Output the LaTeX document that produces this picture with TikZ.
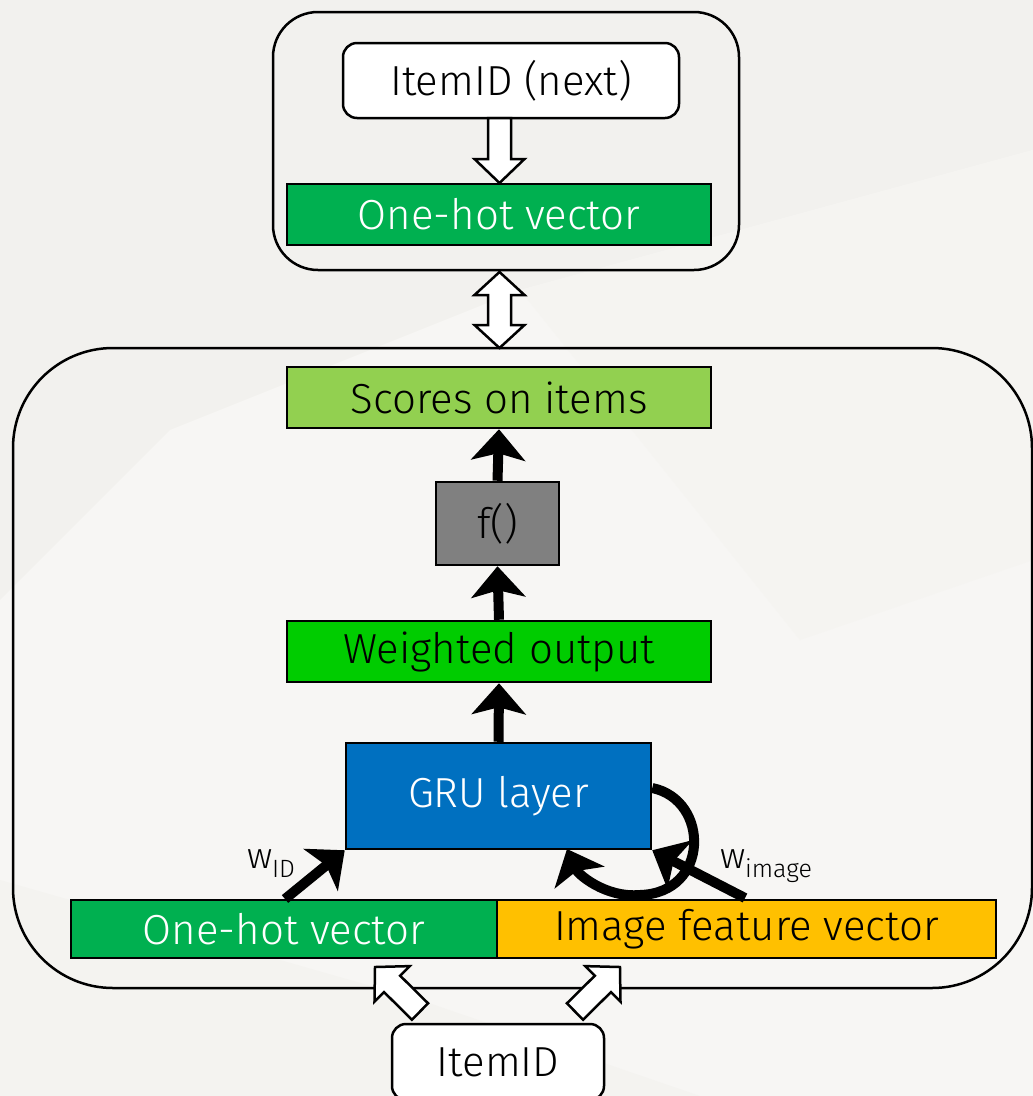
\documentclass[tikz,border=0pt]{standalone}
\usepackage{fontspec}
\setmainfont{Fira Sans Light}
\usetikzlibrary{arrows.meta,calc}
\definecolor{bgbase}{HTML}{F2F1EE}
\definecolor{bglight}{HTML}{F7F6F4}
\definecolor{ohgreen}{HTML}{00B050}
\definecolor{scgreen}{HTML}{92D050}
\definecolor{wtgreen}{HTML}{00CC00}
\definecolor{fgrey}{HTML}{808080}
\definecolor{grublue}{HTML}{0070C0}
\definecolor{imgyel}{HTML}{FFC000}
\tikzset{
  bigtext/.style={font=\fontsize{42}{50}\selectfont},
  box/.style={draw=black, line width=2.5pt, rectangle, inner sep=0pt, bigtext},
  container/.style={draw=black, line width=2.5pt, rectangle, inner sep=0pt},
  blk/.style={line width=10pt, -{Stealth[length=31pt,width=54pt,inset=7pt]}},
  hollow/.style={draw=black, fill=white, line width=2.5pt, line join=miter},
}
\newcommand\blockarrow[2]{%
  \draw[hollow] let \p1=(#1), \p2=(#2), \n1={atan2(\y2-\y1,\x2-\x1)}, \n2={veclen(\x2-\x1,\y2-\y1)} in
  [shift={(\p1)}, rotate=\n1] (0,-11.5) -- (\n2-24,-11.5) -- (\n2-24,-25) -- (\n2,0) -- (\n2-24,25) -- (\n2-24,11.5) -- (0,11.5) -- cycle;}
\newcommand\dblblockarrow[2]{%
  \draw[hollow] let \p1=(#1), \p2=(#2), \n1={atan2(\y2-\y1,\x2-\x1)}, \n2={veclen(\x2-\x1,\y2-\y1)} in
  [shift={(\p1)}, rotate=\n1] (0,0) -- (23,-25) -- (23,-11.5) -- (\n2-23,-11.5) -- (\n2-23,-25) -- (\n2,0) -- (\n2-23,25) -- (\n2-23,11.5) -- (23,11.5) -- (23,25) -- cycle;}
\begin{document}
\begin{tikzpicture}[x=1pt,y=1pt]
\useasboundingbox (0,0) rectangle (1033,-1096);
% background
\fill[bgbase] (0,0) rectangle (1033,-1096);
\fill[bglight] (0,-600) -- (170,-430) -- (520,-290) -- (1033,-150) -- (1033,-1096) -- (0,-1096) -- cycle;
\fill[bgbase!60!bglight] (0,-1096) -- (0,-880) -- (420,-1000) -- (700,-1096) -- cycle;
\fill[bgbase!50!bglight] (520,-290) -- (800,-640) -- (1033,-560) -- (1033,-150) -- cycle;

% top container
\node[container, rounded corners=45pt, minimum width=466pt, minimum height=258pt] (topbox) at (506,-141) {};
\node[box, fill=white, rounded corners=14pt, minimum width=336pt, minimum height=75pt] (next) at (511,-80.5) {ItemID (next)};
\node[box, fill=ohgreen, text=white, minimum width=424pt, minimum height=61pt] (ohtop) at (499,-214.5) {One-hot vector};

% bottom container
\node[container, rounded corners=100pt, minimum width=1019pt, minimum height=640pt] (botbox) at (522.5,-668) {};
\node[box, fill=scgreen, minimum width=424pt, minimum height=61pt] (scores) at (499,-397.5) {Scores on items};
\node[box, fill=fgrey, minimum width=123pt, minimum height=83pt] (f) at (497.5,-523.5) {f()};
\node[box, fill=wtgreen, minimum width=424pt, minimum height=61pt] (weighted) at (499,-651.5) {Weighted output};
\node[box, fill=grublue, text=white, minimum width=305pt, minimum height=106pt] (gru) at (498.5,-796) {GRU layer};
\node[box, fill=ohgreen, text=white, minimum width=426pt, minimum height=58pt] (ohbot) at (284,-929) {One-hot vector};
\node[box, fill=imgyel, minimum width=499pt, minimum height=58pt] (img) at (746.5,-929) {Image feature vector};
\node[box, fill=white, rounded corners=14pt, minimum width=212pt, minimum height=76pt] (item) at (498,-1062) {ItemID};

% hollow block arrows
\coordinate (a1s) at (499.5,-118);
\coordinate (a1e) at (499.5,-183);
\blockarrow{a1s}{a1e}
\coordinate (d1s) at (499.5,-348);
\coordinate (d1e) at (499.5,-272);
\dblblockarrow{d1s}{d1e}
\coordinate (l1s) at (420,-1011.5);
\coordinate (l1e) at (375,-967);
\blockarrow{l1s}{l1e}
\coordinate (r1s) at (575,-1011.5);
\coordinate (r1e) at (620,-967);
\blockarrow{r1s}{r1e}

% black arrows
\draw[blk] (f.north) -- (scores.south);
\draw[blk] (weighted.north) -- (f.south);
\draw[blk] (gru.north) -- (weighted.south);
\coordinate (widstart) at (285,-899);
\draw[blk] (widstart) -- (gru.south west);
\coordinate (wimgstart) at (745,-898);
\draw[blk] (wimgstart) -- (gru.south east);
\coordinate (loopstart) at ($(gru.east)+(0,8)$);
\coordinate (loopmid) at (640,-895);
\coordinate (loopend) at (567,-849);
\draw[blk] (loopstart) .. controls (710,-800) and (710,-893) .. (loopmid) .. controls (605,-898) and (578,-874) .. (loopend);

% labels
\node[inner sep=0pt] (wid) at (271,-864) {\fontsize{36}{40}\selectfont w\raisebox{-9pt}{\fontsize{25}{28}\selectfont ID}};
\node[inner sep=0pt] (wimg) at (766,-866) {\fontsize{36}{40}\selectfont w\raisebox{-9pt}{\fontsize{25}{28}\selectfont image}};
\end{tikzpicture}
\end{document}
